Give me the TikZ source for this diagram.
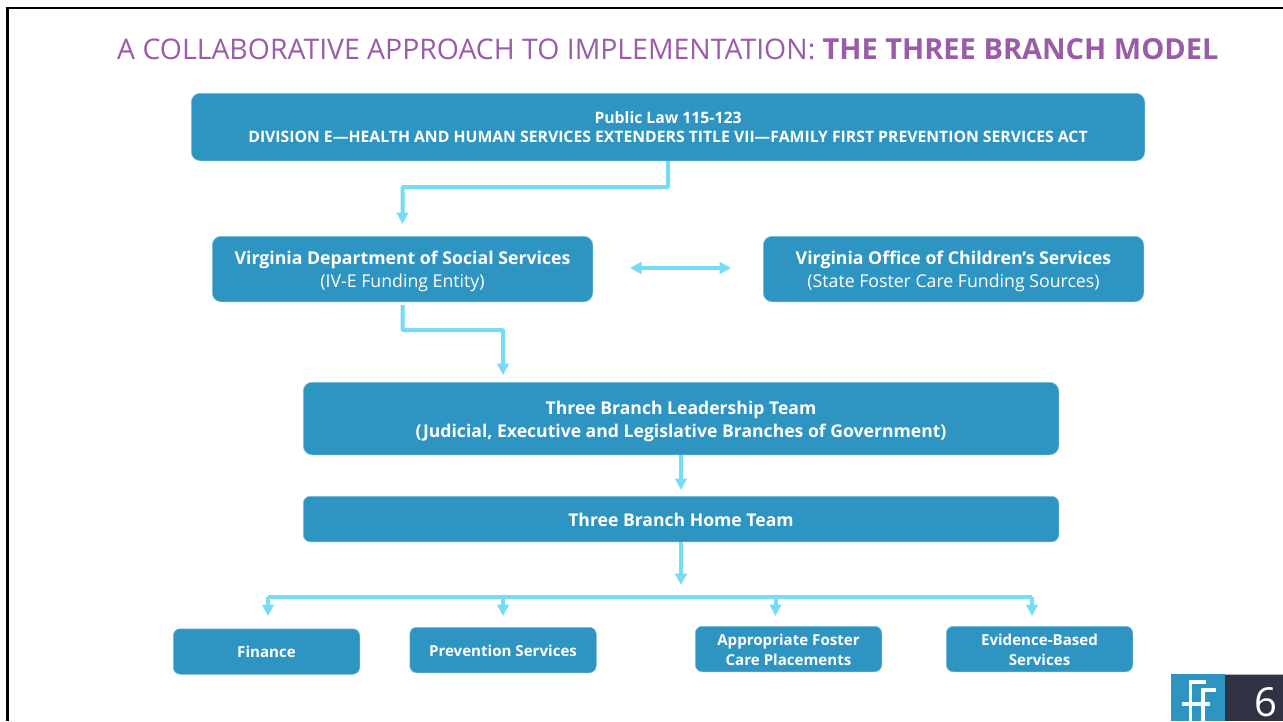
\documentclass[tikz,border=0pt]{standalone}
\usepackage{fontspec}
\setmainfont{Open Sans}
\usetikzlibrary{arrows.meta,calc}
\definecolor{boxblue}{HTML}{2E94C1}
\definecolor{boxedge}{HTML}{7DBEDB}
\definecolor{linkblue}{HTML}{76DBF7}
\definecolor{titlepurple}{HTML}{9A5BA8}
\definecolor{slate}{HTML}{2F3344}
\newcommand\dn[2]{\raisebox{-#1}[\height][\depth]{#2}}
\tikzset{
  bx/.style={fill=boxblue,draw=boxedge,line width=0.5pt,rounded corners=#1,text=white,align=center,inner sep=0pt,anchor=north west},
  bx/.default=9pt,
  lawfont/.style={font=\fontsize{15.75pt}{19pt}\selectfont\bfseries},
  midfont/.style={font=\fontsize{17.7pt}{23pt}\selectfont},
  bigbold/.style={font=\fontsize{17.6pt}{23pt}\selectfont\bfseries},
  smallbold/.style={font=\fontsize{15.1pt}{20pt}\selectfont\bfseries},
  link/.style={draw=linkblue,line width=4pt,rounded corners=1pt,-{Triangle[width=11.5pt,length=11.5pt]}},
  twolink/.style={draw=linkblue,line width=3.2pt,{Triangle[width=11.5pt,length=11.5pt]}-{Triangle[width=11.5pt,length=11.5pt]}},
  plain/.style={draw=linkblue,line width=4pt,rounded corners=1pt},
  logo/.style={draw=white,line width=3.2pt},
}
\begin{document}
\begin{tikzpicture}[x=1pt,y=-1pt]
\useasboundingbox (0,0) rectangle (1283,721);
\fill[white] (0,0) rectangle (1283,721);
\draw[black,line width=2.6pt] (7.3,721) -- (7.3,8) -- (1283,8);

\node[anchor=west,text=titlepurple,inner sep=0pt] (title) at (117,49)
  {\fontsize{28.4pt}{32pt}\selectfont A COLLABORATIVE APPROACH TO IMPLEMENTATION: {\fontsize{29pt}{32pt}\selectfont\bfseries THE THREE BRANCH MODEL}};

\node[bx,lawfont,minimum width=953.5pt,minimum height=67.5pt] (law) at (191,93)
  {Public Law 115-123\\DIVISION E—HEALTH AND HUMAN SERVICES EXTENDERS TITLE VII—FAMILY FIRST PREVENTION SERVICES ACT};
\node[bx,midfont,minimum width=380.5pt,minimum height=65.5pt] (vdss) at (212,236)
  {\dn{2pt}{\textbf{Virginia Department of Social Services}}\\\dn{2pt}{(IV-E Funding Entity)}};
\node[bx,midfont,minimum width=380.5pt,minimum height=65.5pt] (ocs) at (763,236)
  {\dn{2pt}{\textbf{Virginia Office of Children’s Services}}\\\dn{2pt}{(State Foster Care Funding Sources)}};
\node[bx,bigbold,minimum width=755.5pt,minimum height=72.5pt] (lead) at (303,382)
  {\dn{3pt}{Three Branch Leadership Team}\\\dn{3pt}{(Judicial, Executive and Legislative Branches of Government)}};
\node[bx=7pt,bigbold,minimum width=755.5pt,minimum height=45.5pt] (home) at (303,496)
  {\dn{1pt}{Three Branch Home Team}};
\node[bx=7pt,smallbold,minimum width=186.5pt,minimum height=45.5pt] (fin) at (173,628.5)
  {Finance};
\node[bx=7pt,smallbold,minimum width=186.5pt,minimum height=45.5pt] (prev) at (409.5,627)
  {\dn{1pt}{Prevention Services}};
\node[bx=7pt,smallbold,minimum width=186.5pt,minimum height=45.5pt] (fost) at (695,626)
  {\dn{1pt}{Appropriate Foster}\\\dn{1pt}{Care Placements}};
\node[bx=7pt,smallbold,minimum width=186.5pt,minimum height=45.5pt] (ebs) at (946,626)
  {\dn{1pt}{Evidence-Based}\\\dn{1pt}{Services}};

% connectors
\draw[link] (law.south) -- ++(0,26) -| ([yshift=12pt]vdss.north);
\draw[link] ([yshift=-3pt]vdss.south) -- ++(0,25) -| ([xshift=-178pt,yshift=7pt]lead.north);
\draw[twolink] ([xshift=37pt,yshift=1pt]vdss.east) -- ([xshift=-32pt,yshift=1pt]ocs.west);
\draw[link] (lead.south) -- ([yshift=6pt]home.north);
\draw[link] (home.south) -- ++(0,43);
\coordinate (busL) at (268,596.5);
\coordinate (busR) at (1032,596.5);
\draw[plain] (busL) -- (busR);
\draw[link] (busL) -- (268,616);
\draw[link] (503,596.5) -- (503,616);
\draw[link] (775.5,596.5) -- (775.5,616);
\draw[link] (busR) -- (1032,616);

% footer badge
\fill[boxblue] (1171,674) rectangle (1225,721);
\fill[slate] (1225,674) rectangle (1283,721);
\draw[gray!60,line width=0.7pt] (1225,674) -- (1283,674);
\draw[logo] (1190.5,721) -- (1190.5,682) -- (1206,682);
\draw[logo] (1203,721) -- (1203,690) -- (1216,690);
\draw[logo] (1182,704) -- (1210,704);
\node[text=white,inner sep=0pt,anchor=center] (pageno) at (1266,702.5)
  {\fontsize{40pt}{44pt}\selectfont 6};
\end{tikzpicture}
\end{document}
